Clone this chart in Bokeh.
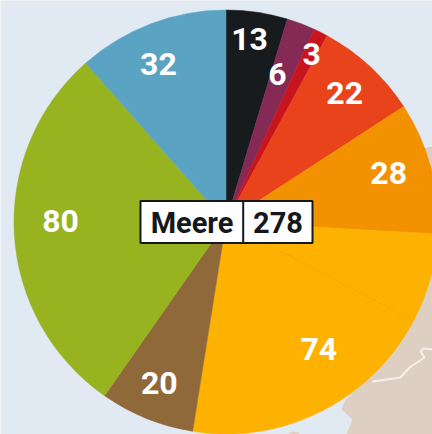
from math import pi, sin, cos, radians
from bokeh.plotting import figure
from bokeh.models import Range1d, ColumnDataSource
from bokeh.core.properties import value
from bokeh.embed import file_html
from bokeh.resources import INLINE

# Data
seats = [13, 6, 3, 22, 28, 74, 20, 80, 32]
colors = ["#171b1e", "#842a55", "#c8141c", "#e9431c", "#f39200", "#fdb100", "#8f693a", "#97b320", "#5ba3c3"]
total_label = "Meere"
total_value = 278
inner_split = 19  # faint division inside the 74 slice

# Layout
W, H = 432, 434
CX, CY, R = 225.5, 221.5, 212
label_r = [185, 157, 189, 175.5, 170, 157, 174, 165.5, 172]
label_da = [-1.1, -1.6, 0.4, -0.2, -2, 2.6, 0.5, 3.7, -2.4]
FONT = "Roboto"

def X(px): return px
def Y(py): return H - py

p = figure(width=W, height=H, output_backend="svg", toolbar_location=None,
           x_range=Range1d(0, W), y_range=Range1d(0, H), min_border=0)
p.axis.visible = False
p.grid.visible = False
p.outline_line_color = None
p.background_fill_color = "#e1e9f2"
p.border_fill_color = "#e1e9f2"

# Map background
land_x = [420, 432, 432, 346, 352, 341, 345, 357]
land_y = [148, 147, 434, 434, 419, 409, 399, 388]
p.patch([X(v) for v in land_x], [Y(v) for v in land_y], fill_color="#ddd0c3", line_color=None)
p.patch([X(v) for v in [287, 292, 298, 299]], [Y(v) for v in [434, 431, 432, 434]], fill_color="#ddd0c3", line_color=None)
p.line([X(v) for v in [372, 400, 409, 424, 420, 423, 432]],
       [Y(v) for v in [381, 377, 367, 357, 351, 348, 349]], line_color="#f4f1ec", line_width=2)
p.line([X(v) for v in [424, 432]], [Y(v) for v in [148, 147]], line_color="#c9c9c9", line_width=1)

# Slices
total = sum(seats)
cum = [0]
for s in seats:
    cum.append(cum[-1] + s)
ang = lambda c: pi / 2 - 2 * pi * c / total
src = ColumnDataSource(dict(start=[ang(c) for c in cum[:-1]], end=[ang(c) for c in cum[1:]], color=colors))
p.wedge(x=X(CX), y=Y(CY), radius=R, start_angle="start", end_angle="end", direction="clock",
        fill_color="color", line_color="color", line_width=0.5, source=src)

# Faint division
a = ang(cum[5] + inner_split)
p.line([X(CX) + 60 * cos(a), X(CX) + (R - 2) * cos(a)], [Y(CY) + 60 * sin(a), Y(CY) + (R - 2) * sin(a)],
       line_color="#f5a800", line_width=1)

# Value labels
lx, ly = [], []
for i in range(len(seats)):
    m = (cum[i] + cum[i + 1]) / 2
    t = ang(m) - radians(label_da[i])
    lx.append(X(CX) + label_r[i] * cos(t))
    ly.append(Y(CY) + label_r[i] * sin(t))
p.text(lx, ly, text=[str(s) for s in seats], text_color="white", text_font=value(FONT),
       text_font_style="bold", text_font_size="32px", text_align="center", text_baseline="middle")

# Total box
p.quad(left=X(140), right=X(312), top=Y(200.5), bottom=Y(242.5), fill_color="white", line_color="#15181b", line_width=2)
p.segment(X(242.7), Y(200.5), X(242.7), Y(242.5), line_color="#15181b", line_width=2)
p.text([X(191.5)], [Y(222)], text=[total_label], text_color="#15181b", text_font=value(FONT), text_font_style="bold",
       text_font_size="29px", text_align="center", text_baseline="middle")
p.text([X(277.5)], [Y(222)], text=[str(total_value)], text_color="#15181b", text_font=value(FONT), text_font_style="bold",
       text_font_size="29px", text_align="center", text_baseline="middle")

open("out.html", "w").write(file_html(p, INLINE))
